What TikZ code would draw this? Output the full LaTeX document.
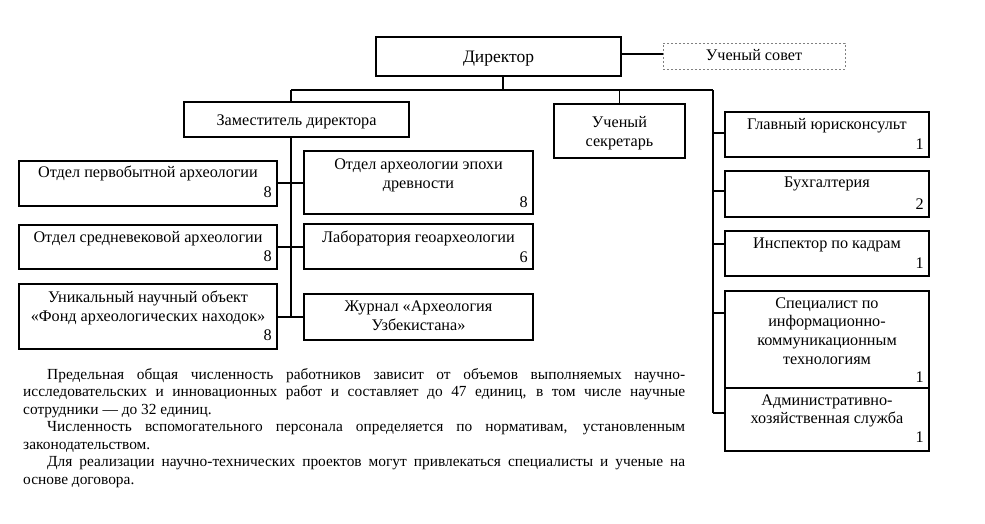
\documentclass[tikz,border=0pt]{standalone}
\usepackage{fontspec}
\setmainfont{Liberation Serif}
\newcommand\boxfont{\fontsize{16.2}{19}\selectfont}
\newcommand\mlines[1]{\begin{tabular}[t]{@{}c@{}}#1\end{tabular}}
\tikzset{
  box/.style={draw, line width=1.2pt, inner sep=0pt, outer sep=0pt, anchor=north west},
  dashbox/.style={box, line width=1pt, draw=gray, dash pattern=on 2pt off 2pt},
  txt/.style={anchor=base, inner sep=0pt, font=\boxfont},
  num/.style={anchor=base east, inner sep=0pt, font=\boxfont},
  conn/.style={draw, line width=1.2pt},
}
\begin{document}
\begin{tikzpicture}[x=1pt,y=-1pt]
\fill[white] (0,0) rectangle (985,523);
\useasboundingbox (0,0) rectangle (985,523);

% boxes
\node[box, minimum width=245, minimum height=39] (dir) at (376,37) {};
\node[dashbox, minimum width=182, minimum height=26] (sovet) at (663,43) {};
\node[box, minimum width=225, minimum height=35] (zam) at (184,102) {};
\node[box, minimum width=131, minimum height=54] (sekr) at (554,104) {};
\node[box, minimum width=258, minimum height=45] (l1) at (19,161) {};
\node[box, minimum width=258, minimum height=44] (l2) at (19,225) {};
\node[box, minimum width=258, minimum height=65] (l3) at (19,284) {};
\node[box, minimum width=229, minimum height=63] (m1) at (304,151) {};
\node[box, minimum width=229, minimum height=45] (m2) at (304,224) {};
\node[box, minimum width=229, minimum height=46] (m3) at (304,294) {};
\node[box, minimum width=204, minimum height=45] (r1) at (725,112) {};
\node[box, minimum width=204, minimum height=46] (r2) at (725,171) {};
\node[box, minimum width=204, minimum height=45] (r3) at (725,231) {};
\node[box, minimum width=204, minimum height=97] (r4) at (725,291) {};
\node[box, minimum width=204, minimum height=63] (r5) at (725,388) {};

% texts
\node[txt, font=\fontsize{17.5}{20}\selectfont] (dirt) at (498.5,62) {Директор};
\node[txt] (sovett) at (754,60) {Ученый совет};
\node[txt] (zamt) at (296.5,125) {Заместитель директора};
\node[txt] (sekrt) at (619.5,127) {\mlines{Ученый\\секретарь}};
\node[txt] (l1t) at (148,177) {Отдел первобытной археологии};
\node[num] (l1n) at (272,197) {8};
\node[txt] (l2t) at (148,242) {Отдел средневековой археологии};
\node[num] (l2n) at (272,261) {8};
\node[txt] (l3t) at (148,302) {\mlines{Уникальный научный объект\\«Фонд археологических находок»}};
\node[num] (l3n) at (272,340) {8};
\node[txt] (m1t) at (418.5,169) {\mlines{Отдел археологии эпохи\\древности}};
\node[num] (m1n) at (528,207) {8};
\node[txt] (m2t) at (418.5,242) {Лаборатория геоархеологии};
\node[num] (m2n) at (528,262) {6};
\node[txt] (m3t) at (418.5,311) {\mlines{Журнал «Археология\\Узбекистана»}};
\node[txt] (r1t) at (827,129) {Главный юрисконсульт};
\node[num] (r1n) at (924,149) {1};
\node[txt] (r2t) at (827,187) {Бухгалтерия};
\node[num] (r2n) at (924,209) {2};
\node[txt] (r3t) at (827,248) {Инспектор по кадрам};
\node[num] (r3n) at (924,268) {1};
\node[txt, font=\fontsize{16.2}{18.7}\selectfont] (r4t) at (827,308) {\mlines{Специалист по\\информационно-\\коммуникационным\\технологиям}};
\node[num] (r4n) at (924,382) {1};
\node[txt, font=\fontsize{16.2}{18}\selectfont] (r5t) at (827,405) {\mlines{Административно-\\хозяйственная служба}};
\node[num] (r5n) at (924,442) {1};

% connector coordinates
\coordinate (busL) at (291,90);
\coordinate (busR) at (713,90);
\coordinate (busD) at (503,90);
\coordinate (sv) at (640,54);
\coordinate (zb) at (291,317);
\coordinate (lt1) at (291,183);
\coordinate (lt2) at (291,247);
\coordinate (lt3) at (291,317);
\coordinate (rt1) at (713,133);
\coordinate (rt2) at (713,191);
\coordinate (rt3) at (713,244);
\coordinate (rt4) at (713,313);
\coordinate (rt5) at (713,413);

% connectors
\draw[conn] (sv -| dir.east) -- (sv -| sovet.west);
\draw[conn] (busL) -- (busR);
\draw[conn] (busD |- dir.south) -- (busD);
\draw[conn] (busL) -- (busL |- zam.north);
\draw[conn] (busL -| sekr.north) -- (sekr.north);
\draw[conn] (busR) -- (rt5);
\draw[conn] (busL |- zam.south) -- (zb);
\draw[conn] (lt1 -| l1.east) -- (lt1 -| m1.west);
\draw[conn] (lt2 -| l2.east) -- (lt2 -| m2.west);
\draw[conn] (lt3 -| l3.east) -- (lt3 -| m3.west);
\draw[conn] (rt1) -- (rt1 -| r1.west);
\draw[conn] (rt2) -- (rt2 -| r2.west);
\draw[conn] (rt3) -- (rt3 -| r3.west);
\draw[conn] (rt4) -- (rt4 -| r4.west);
\draw[conn] (rt5) -- (rt5 -| r5.west);

% paragraph
\node[anchor=base west, inner sep=0pt] (para) at (23,379) {\parbox[t]{662pt}{\fontsize{15.4}{17.5}\selectfont\parindent=24pt\hyphenpenalty=10000\emergencystretch=30pt
Предельная общая численность работников зависит от объемов выполняемых научно-\linebreak исследовательских и инновационных работ и составляет до 47 единиц, в том числе научные\linebreak сотрудники — до 32 единиц.\par
Численность вспомогательного персонала определяется по нормативам, установленным\linebreak законодательством.\par
Для реализации научно-технических проектов могут привлекаться специалисты и ученые на\linebreak основе договора.}};
\end{tikzpicture}
\end{document}
